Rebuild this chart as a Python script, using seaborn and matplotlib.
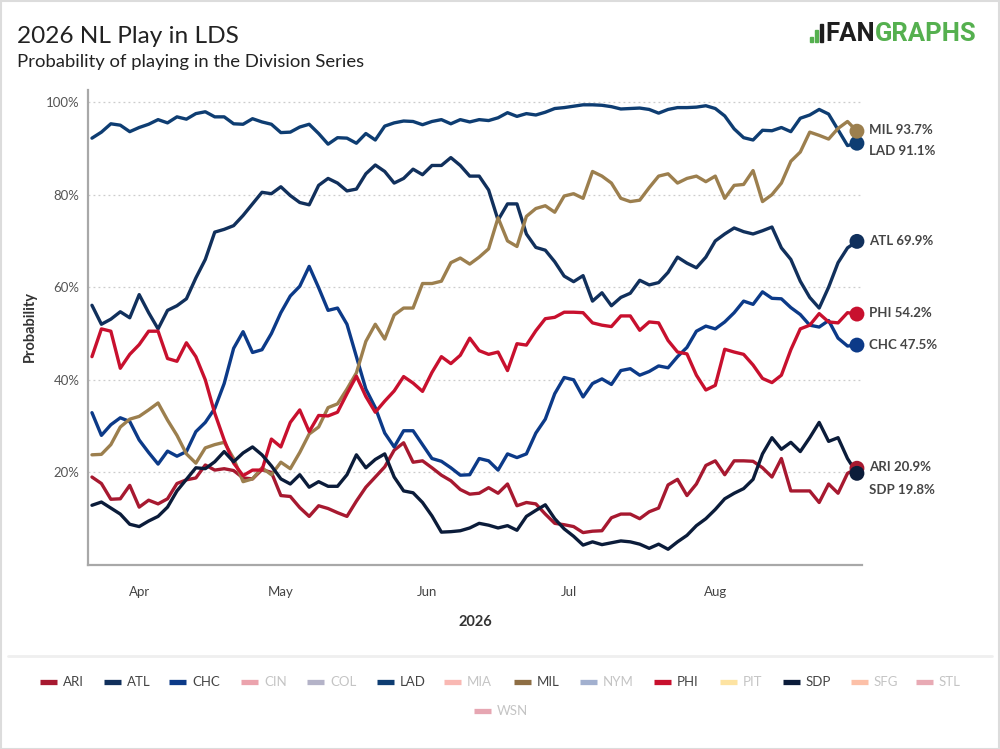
import numpy as np
import pandas as pd
import matplotlib
matplotlib.use('Agg')
import matplotlib.pyplot as plt
from matplotlib.lines import Line2D
from matplotlib.patches import Rectangle
import seaborn as sns

# ---------------- data ----------------
dates = pd.date_range('2026-03-22', '2026-08-31', freq='2D')

teams = ['ARI', 'ATL', 'CHC', 'LAD', 'MIL', 'PHI', 'SDP']

ari = [19.0, 17.6, 14.2, 14.3, 17.2, 12.5, 14.0, 13.2, 14.3, 17.6,
       18.4, 18.8, 21.6, 20.5, 20.8, 20.4, 18.8, 18.6, 20.6, 20.0,
       15.0, 14.8, 12.4, 10.5, 12.8, 12.2, 11.3, 10.5, 13.8, 16.8,
       19.0, 21.2, 24.8, 26.4, 22.2, 22.5, 21.0, 19.4, 18.2, 16.3,
       15.3, 15.5, 16.7, 15.5, 17.5, 12.8, 13.5, 13.2, 11.0, 9.0,
       8.7, 8.3, 7.0, 7.3, 7.4, 10.2, 11.0, 11.0, 10.0, 11.5,
       12.3, 17.3, 18.5, 15.0, 17.5, 21.5, 22.5, 19.5, 22.5, 22.5,
       22.4, 21.0, 19.0, 23.0, 16.0, 16.0, 16.0, 13.5, 17.5, 15.5,
       19.8, 20.9]
atl = [56.1, 52.0, 53.1, 54.7, 53.4, 58.4, 54.5, 51.0, 55.0, 56.0,
       57.5, 62.0, 66.0, 71.9, 72.5, 73.3, 75.5, 78.0, 80.5, 80.2,
       81.7, 79.8, 78.3, 77.8, 82.0, 83.5, 82.5, 80.8, 81.2, 84.5,
       86.4, 85.0, 82.5, 83.5, 85.5, 84.3, 86.3, 86.3, 88.0, 86.3,
       84.0, 84.0, 81.0, 74.5, 78.0, 78.0, 71.5, 68.6, 68.0, 65.5,
       62.4, 61.2, 62.5, 57.0, 58.8, 56.0, 57.8, 58.7, 61.5, 60.5,
       61.0, 63.2, 66.5, 65.2, 64.2, 66.5, 70.0, 71.5, 72.8, 72.0,
       71.5, 72.2, 73.0, 68.5, 66.0, 61.3, 57.8, 55.5, 60.0, 65.3,
       68.5, 69.9]
chc = [32.9, 28.0, 30.3, 31.8, 31.0, 27.0, 24.3, 21.8, 24.6, 23.5,
       24.5, 28.8, 30.8, 33.8, 39.2, 46.8, 50.4, 45.9, 46.5, 50.0,
       54.5, 58.1, 60.2, 64.5, 59.9, 55.0, 55.5, 52.0, 45.0, 38.0,
       34.0, 28.5, 25.5, 29.0, 29.0, 26.0, 23.0, 22.4, 21.0, 19.4,
       19.5, 23.0, 22.5, 20.5, 24.0, 23.2, 24.0, 28.5, 31.5, 37.0,
       40.5, 40.0, 36.3, 39.2, 40.2, 39.0, 42.0, 42.4, 41.0, 41.8,
       43.0, 42.6, 45.0, 47.0, 50.5, 51.6, 51.0, 52.5, 54.5, 57.0,
       56.3, 59.0, 57.6, 57.5, 55.6, 54.1, 51.8, 51.4, 52.8, 49.0,
       47.3, 47.5]
lad = [92.2, 93.5, 95.3, 95.0, 93.6, 94.5, 95.2, 96.2, 95.5, 96.8,
       96.3, 97.5, 97.9, 96.8, 96.8, 95.3, 95.2, 96.4, 95.7, 95.2,
       93.4, 93.5, 94.6, 95.2, 93.2, 90.9, 92.3, 92.2, 91.1, 93.2,
       91.8, 94.8, 95.5, 95.9, 95.8, 95.1, 95.8, 96.2, 95.3, 96.2,
       95.7, 96.2, 96.0, 96.6, 97.7, 96.9, 97.5, 97.2, 97.8, 98.6,
       98.8, 99.1, 99.4, 99.4, 99.3, 99.0, 98.5, 98.6, 98.7, 98.4,
       97.6, 98.4, 98.8, 98.8, 98.9, 99.2, 98.6, 97.0, 94.2, 92.3,
       91.8, 93.9, 93.8, 94.5, 93.6, 96.5, 97.2, 98.4, 97.4, 94.0,
       90.6, 91.1]
mil = [23.8, 23.9, 26.0, 29.8, 31.5, 32.1, 33.5, 35.0, 31.3, 28.0,
       24.0, 22.0, 25.3, 26.0, 26.5, 23.0, 18.0, 18.6, 21.0, 19.5,
       22.2, 20.8, 24.3, 28.3, 29.8, 34.0, 34.8, 38.0, 41.5, 48.3,
       52.0, 48.8, 54.0, 55.5, 55.5, 60.8, 60.8, 61.3, 65.3, 66.3,
       65.0, 66.5, 68.3, 75.0, 70.0, 68.8, 75.3, 77.0, 77.6, 76.2,
       79.7, 80.2, 79.2, 85.0, 84.0, 82.5, 79.2, 78.5, 78.8, 81.5,
       84.0, 84.5, 82.5, 83.5, 84.0, 82.8, 84.0, 79.2, 82.0, 82.2,
       85.2, 78.5, 80.0, 82.5, 87.2, 89.2, 93.5, 92.8, 92.0, 94.3,
       95.8, 93.7]
phi = [45.0, 51.0, 50.5, 42.5, 45.5, 47.6, 50.5, 50.5, 44.6, 44.0,
       48.0, 45.0, 40.0, 32.8, 27.0, 22.0, 19.3, 20.5, 20.5, 27.2,
       25.5, 30.8, 33.5, 28.8, 32.3, 32.2, 33.0, 37.0, 40.8, 36.4,
       33.0, 35.4, 37.6, 40.7, 39.3, 37.5, 41.6, 45.0, 43.5, 45.3,
       49.0, 46.3, 45.5, 46.0, 42.0, 47.8, 47.5, 50.6, 53.2, 53.5,
       54.6, 54.6, 54.5, 52.3, 51.8, 51.5, 53.8, 53.8, 50.7, 52.5,
       52.3, 48.5, 46.0, 45.6, 41.0, 37.8, 38.8, 46.6, 46.0, 45.5,
       43.2, 40.3, 39.4, 41.0, 46.5, 51.0, 51.8, 54.3, 52.5, 52.3,
       54.5, 54.2]
sdp = [12.9, 13.6, 12.3, 11.0, 8.8, 8.3, 9.5, 10.5, 12.5, 16.0,
       18.5, 21.0, 20.8, 22.3, 24.5, 22.3, 24.2, 25.5, 23.8, 21.4,
       18.6, 17.5, 19.5, 16.8, 18.0, 17.0, 17.0, 19.5, 23.8, 21.0,
       22.8, 24.0, 19.0, 16.0, 15.6, 13.5, 10.6, 7.1, 7.2, 7.4,
       8.0, 9.0, 8.6, 8.0, 8.5, 7.5, 10.5, 11.8, 13.0, 10.0,
       7.8, 6.2, 4.3, 5.0, 4.4, 4.8, 5.2, 5.0, 4.5, 3.6,
       4.5, 3.4, 5.0, 6.4, 8.5, 10.0, 12.0, 14.3, 15.5, 16.5,
       18.5, 24.0, 27.5, 25.0, 26.5, 24.5, 27.5, 30.8, 26.7, 27.5,
       23.0, 19.8]

series = {'ARI': ari, 'ATL': atl, 'CHC': chc, 'LAD': lad,
          'MIL': mil, 'PHI': phi, 'SDP': sdp}

line_colors = {'ARI': '#A71930', 'ATL': '#11305C', 'CHC': '#0C3A88',
               'LAD': '#0E3D72', 'MIL': '#9C7F4E', 'PHI': '#C8102E',
               'SDP': '#0B1C3A'}

legend_teams = ['ARI', 'ATL', 'CHC', 'CIN', 'COL', 'LAD', 'MIA', 'MIL',
                'NYM', 'PHI', 'PIT', 'SDP', 'SFG', 'STL', 'WSN']
legend_colors = ['#A71930', '#11305C', '#0C3A88', '#EBA3AD', '#B4B3C8',
                 '#0E3D72', '#F9B8B3', '#8E6E44', '#A2B0CF', '#C8102E',
                 '#FDE3A2', '#0B1C3A', '#FCC0A8', '#E8AAB4', '#E6A6B2']
legend_active = ['ARI', 'ATL', 'CHC', 'LAD', 'MIL', 'PHI', 'SDP']

month_ticks = ['2026-04-01', '2026-05-01', '2026-06-01', '2026-07-01', '2026-08-01']
month_labels = ['Apr', 'May', 'Jun', 'Jul', 'Aug']
ytick_vals = [20, 40, 60, 80, 100]

# ---------------- style ----------------
sns.set_theme(style='white')
plt.rcParams['font.family'] = ['Lato', 'DejaVu Sans']

W, H = 1000, 749
fig = plt.figure(figsize=(W / 100, H / 100), dpi=100)
fig.patch.set_facecolor('white')

ax_l, ax_r, ax_t, ax_b = 88, 862, 90, 565
ax = fig.add_axes([ax_l / W, 1 - ax_b / H, (ax_r - ax_l) / W, (ax_b - ax_t) / H])

df = pd.DataFrame({
    'date': np.tile(dates, len(teams)),
    'team': np.repeat(teams, len(dates)),
    'value': np.concatenate([series[t] for t in teams]),
})
sns.lineplot(data=df, x='date', y='value', hue='team', hue_order=teams,
             palette=line_colors, linewidth=2.4, legend=False, ax=ax,
             estimator=None)

apr1 = pd.Timestamp('2026-04-01')
ax.set_xlim(apr1 + pd.Timedelta(days=-10.84), apr1 + pd.Timedelta(days=153.07))
ax.set_ylim(0, 102.6)

ax.set_yticks(ytick_vals)
ax.set_yticklabels([f'{v}%' for v in ytick_vals])
ax.set_xticks(pd.to_datetime(month_ticks))
ax.set_xticklabels(month_labels)
ax.tick_params(axis='y', length=0, pad=6, labelsize=9.5, labelcolor='#555555')
ax.tick_params(axis='x', length=0, pad=15, labelsize=9.5, labelcolor='#444444')
ax.set_xlabel('')
ax.set_ylabel('')

ax.yaxis.grid(True, linestyle=(0, (1.5, 2.5)), color='#cccccc', linewidth=0.9)
ax.xaxis.grid(False)
for s in ['top', 'right']:
    ax.spines[s].set_visible(False)
for s in ['left', 'bottom']:
    ax.spines[s].set_color('#a8a8a8')
    ax.spines[s].set_linewidth(1.6)

# end dots and labels
label_dy_px = {'MIL': 1, 'LAD': -8, 'ATL': 0, 'PHI': 1, 'CHC': 0, 'ARI': 1, 'SDP': -17}
for t in teams:
    v = series[t][-1]
    ax.scatter([dates[-1]], [v], s=115, color=line_colors[t], zorder=6,
               edgecolor='none', clip_on=False)
for t in teams:
    v = series[t][-1]
    ax.annotate(f'{t} {v:.1f}%', xy=(dates[-1], v),
                xytext=(12 * 0.72, label_dy_px[t] * 0.72), textcoords='offset points',
                ha='left', va='center', fontsize=9.5, fontweight='bold',
                color='#454545', annotation_clip=False)

# axis titles
fig.text((ax_l + ax_r) / 2 / W, 1 - 622 / H, '2026', ha='center', va='center',
         fontsize=10.5, fontweight='bold', color='#333333')
fig.text(30 / W, 1 - 327 / H, 'Probability', ha='center', va='center',
         rotation=90, fontsize=10.5, fontweight='bold', color='#333333')

# title / subtitle
fig.text(17 / W, 1 - 43 / H, '2026 NL Play in LDS', ha='left', va='baseline',
         fontsize=17.6, color='#222222')
fig.text(17 / W, 1 - 67 / H, 'Probability of playing in the Division Series',
         ha='left', va='baseline', fontsize=13.3, color='#222222')

# logo
t_gr = fig.text(977 / W, 1 - 41 / H, 'GRAPHS', ha='right', va='baseline',
                fontsize=18.5, fontweight='bold', color='#55b04f',
                family=['Roboto', 'DejaVu Sans'])
fig.canvas.draw()
bb = t_gr.get_window_extent()
t_fan = fig.text(bb.x0 / fig.bbox.width, 1 - 41 / H, 'FAN', ha='right', va='baseline',
                 fontsize=18.5, fontweight='bold', color='#1e1e1e',
                 family=['Roboto', 'DejaVu Sans'])
fig.canvas.draw()
bb2 = t_fan.get_window_extent()
x0 = bb2.x0 - 16
for i, (hh, col) in enumerate([(5, '#55b04f'), (12, '#55b04f'), (18, '#1e1e1e')]):
    fig.patches.append(Rectangle(((x0 + i * 5) / W, (H - 42) / H), 3 / W, hh / H,
                                 transform=fig.transFigure, color=col, zorder=5))

# separator and border
fig.add_artist(Line2D([8 / W, 992 / W], [1 - 656 / H, 1 - 656 / H],
                      transform=fig.transFigure, color='#efefef', linewidth=2))
fig.patches.append(Rectangle((0.5 / W, 0.5 / H), 1 - 1.5 / W, 1 - 1.5 / H,
                             transform=fig.transFigure, fill=False,
                             edgecolor='#dcdcdc', linewidth=1.5))

# legend (manual layout)
handle_x = [40, 104, 169, 241, 307, 377, 444, 514, 580, 654, 720, 783, 851, 916, 474]
row_y = [682] * 14 + [711]
for name, col, hx, ry in zip(legend_teams, legend_colors, handle_x, row_y):
    yf = 1 - ry / H
    fig.add_artist(Line2D([hx / W, (hx + 17) / W], [yf, yf], transform=fig.transFigure,
                          color=col, linewidth=3.8, solid_capstyle='butt'))
    fig.text((hx + 23) / W, yf, name, ha='left', va='center', fontsize=9.5,
             color='#444444' if name in legend_active else '#c4c4c4')

fig.savefig('out.png', dpi=100, facecolor='white')
